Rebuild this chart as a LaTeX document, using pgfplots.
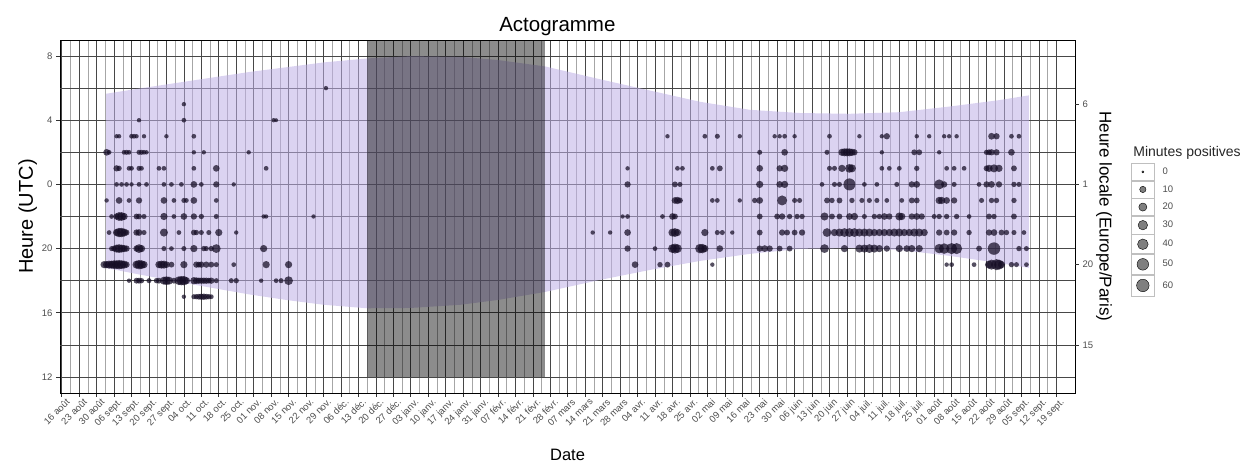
\documentclass[border=0pt]{standalone}
\usepackage{fontspec}
\setmainfont{Liberation Sans}
\usepackage{pgfplots}
\usepackage{pgfplotstable}
\pgfplotsset{compat=1.18}

\definecolor{nightband}{RGB}{190,175,230}
\definecolor{dotcol}{RGB}{20,12,36}
\definecolor{ticktext}{RGB}{77,77,77}

% filled disc without outline
\pgfdeclareplotmark{disc}{\pgfpathcircle{\pgfpointorigin}{\pgfplotmarksize}\pgfusepathqfill}

% d = days since 16 Aug 2020, v = hour (UTC, 24+ for after midnight), m = minutes
\pgfplotstableread{
d v m
49 29 3
106 30 3
31 28 3
49 28 4
85 28 3
86 28 2
22 27 3
23 27 3
28 27 4
29 27 4
30 27 3
33 27 3
42 27 3
53 27 4
18 26 12
19 26 4
25 26 4
26 26 5
27 26 4
31 26 5
32 26 5
33 26 4
34 26 3
53 26 3
57 26 3
75 26 3
22 25 10
23 25 6
27 25 4
28 25 4
31 25 5
32 25 4
39 25 4
41 25 4
53 25 4
62 25 12
82 25 4
22 24 4
24 24 4
26 24 4
28 24 3
31 24 4
34 24 4
41 24 4
44 24 4
48 24 4
53 24 12
56 24 4
62 24 10
69 24 3
18 23 3
23 23 12
27 23 4
31 23 10
41 23 12
45 23 4
49 23 5
50 23 4
53 23 12
62 23 4
20 22 4
22 22 10
23 22 25
24 22 25
25 22 15
30 22 8
31 22 8
33 22 5
41 22 15
45 22 4
49 22 12
53 22 10
56 22 6
62 22 5
81 22 3
82 22 3
101 22 3
19 21 4
22 21 15
23 21 30
24 21 30
25 21 20
26 21 8
30 21 10
31 21 12
33 21 5
41 21 20
47 21 4
53 21 8
54 21 6
56 21 5
59 21 5
63 21 15
70 21 3
20 20 5
21 20 8
22 20 20
23 20 25
24 20 20
25 20 15
26 20 10
30 20 10
31 20 25
32 20 15
41 20 5
44 20 4
49 20 5
53 20 15
57 20 6
58 20 5
60 20 6
62 20 25
81 20 15
17 19 15
18 19 15
19 19 20
20 19 20
21 19 25
22 19 25
23 19 30
24 19 25
25 19 20
26 19 10
30 19 20
31 19 30
32 19 25
33 19 15
39 19 15
40 19 20
41 19 20
42 19 12
44 19 8
49 19 15
54 19 10
55 19 8
56 19 10
58 19 10
60 19 8
62 19 5
69 19 4
82 19 15
91 19 15
27 18 3
30 18 8
31 18 8
32 18 6
35 18 5
38 18 6
39 18 8
41 18 20
42 18 25
43 18 20
45 18 8
47 18 25
48 18 30
49 18 30
50 18 15
53 18 15
54 18 12
55 18 10
56 18 10
57 18 10
58 18 10
59 18 8
60 18 10
62 18 5
68 18 5
70 18 6
80 18 3
86 18 4
88 18 5
91 18 25
49 17 3
53 17 5
54 17 6
55 17 8
56 17 10
57 17 10
58 17 8
59 17 6
60 17 4
243 27 3
258 27 4
263 27 5
227 25 3
247 25 4
249 25 4
261 25 4
264 25 8
227 24 10
246 24 8
248 24 5
246 23 12
247 23 15
248 23 8
261 23 4
263 23 4
225 22 3
227 22 4
241 22 4
245 22 12
246 22 8
213 21 3
220 21 3
227 21 12
245 21 20
246 21 25
247 21 15
258 21 15
263 21 5
265 21 5
227 20 10
238 20 4
245 20 25
246 20 35
247 20 25
256 20 30
257 20 30
258 20 15
264 20 12
230 19 12
240 19 6
243 19 8
261 19 3
272 27 3
286 27 3
288 27 3
290 27 4
294 27 3
308 27 4
320 27 3
329 27 3
280 26 5
290 26 12
307 26 5
313 26 15
314 26 20
315 26 20
316 26 20
317 26 15
318 26 10
329 26 3
280 25 12
288 25 10
290 25 15
308 25 5
310 25 5
313 25 15
316 25 25
317 25 20
329 25 4
280 24 15
288 24 12
290 24 15
305 24 4
310 24 5
312 24 5
316 24 55
322 24 4
327 24 4
272 23 3
278 23 6
280 23 12
289 23 35
294 23 5
296 23 5
307 23 8
309 23 6
312 23 8
317 23 6
321 23 5
324 23 5
327 23 5
280 22 8
287 22 8
289 22 10
292 22 6
295 22 6
297 22 6
306 22 20
309 22 8
312 22 8
316 22 12
318 22 15
322 22 5
326 22 6
328 22 6
269 21 3
280 21 8
289 21 10
291 21 8
294 21 8
297 21 10
307 21 25
310 21 15
312 21 20
314 21 25
316 21 25
318 21 25
320 21 20
322 21 20
324 21 20
326 21 15
328 21 15
330 21 15
280 20 10
282 20 12
284 20 10
288 20 8
292 20 8
306 20 25
314 20 15
320 20 20
322 20 20
324 20 25
326 20 20
328 20 15
331 27 10
343 27 3
348 27 3
354 27 3
356 27 3
359 27 3
373 27 12
375 27 10
381 27 4
384 27 4
342 26 8
344 26 8
352 26 3
371 26 6
372 26 8
373 26 10
375 26 10
381 26 12
332 25 4
336 25 4
343 25 6
355 25 4
358 25 4
362 25 4
371 25 8
372 25 15
374 25 20
376 25 15
382 25 8
335 24 5
341 24 10
343 24 12
352 24 35
354 24 10
358 24 5
368 24 4
371 24 10
373 24 12
376 24 10
382 24 6
384 24 5
331 23 4
337 23 4
341 23 8
343 23 8
352 23 15
353 23 15
355 23 12
358 23 10
369 23 5
373 23 6
375 23 6
382 23 6
330 22 12
332 22 10
336 22 20
337 22 15
341 22 10
343 22 12
345 22 10
350 22 5
352 22 6
355 22 6
359 22 6
364 22 4
372 22 8
374 22 6
382 22 8
332 21 15
334 21 20
336 21 20
338 21 15
340 21 15
342 21 20
344 21 20
346 21 15
352 21 10
355 21 8
358 21 10
364 21 6
372 21 10
374 21 12
377 21 8
379 21 6
382 21 5
386 21 4
331 20 10
336 20 15
339 20 12
341 20 15
344 20 15
352 20 30
354 20 40
357 20 45
359 20 45
368 20 8
374 20 60
384 20 6
387 20 5
355 19 3
357 19 4
366 19 4
372 19 20
373 19 35
375 19 45
376 19 35
377 19 15
381 19 6
383 19 5
387 19 4
}\activity

\pgfplotsset{
  tickfont/.style={font=\fontsize{9.5}{11}\selectfont, text=ticktext},
}

\begin{document}
\begin{tikzpicture}
\begin{axis}[
  scale only axis,
  width=1015pt, height=353pt,
  xmin=-0.7, xmax=406.5,
  ymin=11, ymax=33,
  clip mode=individual,
  xtick={0,7,...,399},
  xticklabels={16 août,23 août,30 août,06 sept.,13 sept.,20 sept.,27 sept.,04 oct.,11 oct.,18 oct.,25 oct.,01 nov.,08 nov.,15 nov.,22 nov.,29 nov.,06 déc.,13 déc.,20 déc.,27 déc.,03 janv.,10 janv.,17 janv.,24 janv.,31 janv.,07 févr.,14 févr.,21 févr.,28 févr.,07 mars,14 mars,21 mars,28 mars,04 avr.,11 avr.,18 avr.,25 avr.,02 mai,09 mai,16 mai,23 mai,30 mai,06 juin,13 juin,20 juin,27 juin,04 juil.,11 juil.,18 juil.,25 juil.,01 août,08 août,15 août,22 août,29 août,05 sept.,12 sept.,19 sept.},
  minor x tick num=1,
  ytick={12,16,20,24,28,32},
  yticklabels={12,16,20,0,4,8},
  extra y ticks={14,18,22,26,30},
  extra y tick labels={},
  extra y tick style={grid=major, major tick length=0pt},
  grid=both,
  major grid style={black!72, line width=0.6pt},
  minor grid style={black!35, line width=0.45pt},
  axis line style={black, line width=0.9pt},
  tick align=outside,
  major tick length=4pt,
  minor tick length=0pt,
  tick style={black!80, line width=0.6pt},
  ytick pos=left, xtick pos=bottom,
  x tick label style={tickfont, rotate=45, anchor=north east, inner sep=1pt, xshift=3pt, yshift=-2pt},
  y tick label style={tickfont},
  title={Actogramme},
  title style={font=\fontsize{20.5}{23}\selectfont, at={(0.49,1.006)}, anchor=base},
  xlabel={Date},
  xlabel style={font=\fontsize{16.5}{19}\selectfont, at={(0.5,0)}, anchor=base, yshift=-67pt},
  ylabel={Heure (UTC)},
  ylabel style={font=\fontsize{20}{23}\selectfont, at={(0,0.5)}, anchor=base, yshift=27pt},
  legend style={at={(1.055,0.652)}, anchor=north west, draw=none, fill=none,
    font=\fontsize{9.5}{10}\selectfont, text=ticktext, row sep=0pt, inner sep=0pt,
    /tikz/every odd column/.append style={column sep=6pt}},
  legend cell align=left,
]
% night band (sunset to sunrise)
\addplot[forget plot, draw=none, fill=nightband, fill opacity=0.55] coordinates {
(17.8,29.65) (30,29.95) (45,30.3) (60,30.65) (75,31.0) (90,31.3) (105,31.6)
(122.5,31.85) (140,32.0) (160,31.95) (175,31.75) (194,31.35) (205,30.95)
(216,30.55) (236,29.85) (256,29.15) (276,28.65) (296,28.45) (316,28.4)
(336,28.5) (356,28.85) (376,29.25) (388,29.55)
(388,18.8) (376,19.1) (356,19.55) (336,19.92) (316,20.04) (296,19.98)
(276,19.67) (256,19.23) (236,18.67) (216,18.05) (194,17.3) (175,16.8)
(160,16.5) (140,16.3) (122.5,16.28) (105,16.5) (90,16.8) (75,17.15)
(60,17.56) (45,17.98) (30,18.42) (17.8,18.79)
} -- cycle;
% period without recording
\addplot[forget plot, draw=none, fill=black, fill opacity=0.45] coordinates {
(122.5,12) (193.9,12) (193.9,33) (122.5,33)
} -- cycle;
% activity bubbles
\addplot[forget plot, scatter, only marks, mark=disc,
  scatter/use mapped color={draw=none, fill=dotcol, fill opacity=0.72},
  visualization depends on={1.04+5.2*sqrt(\thisrow{m}/60) \as \perpointmarksize},
  scatter/@pre marker code/.append style={/tikz/mark size=\perpointmarksize},
] table[x=d, y=v, meta=m] {\activity};

\addlegendimage{legend image code/.code={\draw[black!25, fill=white, line width=0.6pt] (-11.5pt,-8.5pt) rectangle (11.5pt,8.5pt); \fill[black, fill opacity=0.5] (0pt,0pt) circle (1.04pt);}}
\addlegendentry{0}
\addlegendimage{legend image code/.code={\draw[black!25, fill=white, line width=0.6pt] (-11.5pt,-8.5pt) rectangle (11.5pt,8.5pt); \fill[black, fill opacity=0.5] (0pt,0pt) circle (3.16pt);}}
\addlegendentry{10}
\addlegendimage{legend image code/.code={\draw[black!25, fill=white, line width=0.6pt] (-11.5pt,-8.5pt) rectangle (11.5pt,8.5pt); \fill[black, fill opacity=0.5] (0pt,0pt) circle (4.04pt);}}
\addlegendentry{20}
\addlegendimage{legend image code/.code={\draw[black!25, fill=white, line width=0.6pt] (-11.5pt,-9pt) rectangle (11.5pt,9pt); \fill[black, fill opacity=0.5] (0pt,0pt) circle (4.72pt);}}
\addlegendentry{30}
\addlegendimage{legend image code/.code={\draw[black!25, fill=white, line width=0.6pt] (-11.5pt,-9.5pt) rectangle (11.5pt,9.5pt); \fill[black, fill opacity=0.5] (0pt,0pt) circle (5.29pt);}}
\addlegendentry{40}
\addlegendimage{legend image code/.code={\draw[black!25, fill=white, line width=0.6pt] (-11.5pt,-10pt) rectangle (11.5pt,10pt); \fill[black, fill opacity=0.5] (0pt,0pt) circle (5.79pt);}}
\addlegendentry{50}
\addlegendimage{legend image code/.code={\draw[black!25, fill=white, line width=0.6pt] (-11.5pt,-10.5pt) rectangle (11.5pt,10.5pt); \fill[black, fill opacity=0.5] (0pt,0pt) circle (6.24pt);}}
\addlegendentry{60}

\node[anchor=base west, font=\fontsize{14}{16}\selectfont, text=black!85] at (rel axis cs:1.054,0.671) {Minutes positives};
\end{axis}

% local time axis on the right
\begin{axis}[
  scale only axis,
  width=1015pt, height=353pt,
  xmin=-0.7, xmax=406.5,
  ymin=11, ymax=33,
  axis x line=none,
  axis y line*=right,
  axis line style={draw=none},
  ytick={14,19,24,29},
  yticklabels={15,20,1,6},
  tick align=outside,
  major tick length=4pt,
  tick style={black!80, line width=0.6pt},
  y tick label style={tickfont},
  ylabel={Heure locale (Europe/Paris)},
  ylabel style={font=\fontsize{17}{20}\selectfont, rotate=180, at={(1.0286,0.5)}, anchor=center},
]
\end{axis}

\pgfresetboundingbox
\path (-60pt,-69pt) rectangle (1186pt,393pt);
\end{tikzpicture}
\end{document}
